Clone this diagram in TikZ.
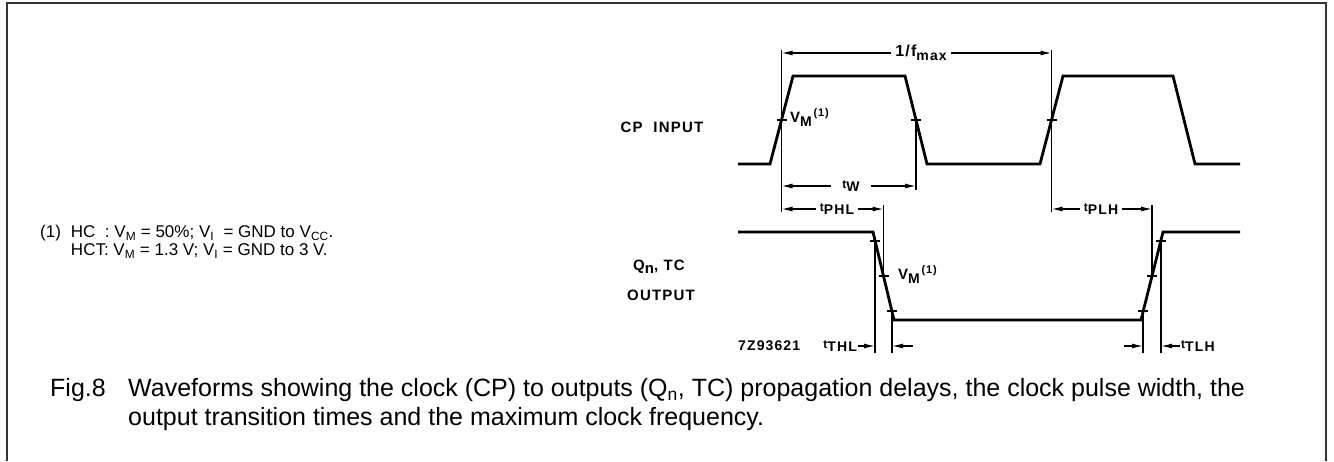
\documentclass[tikz,border=0pt]{standalone}
\usepackage{fontspec}
\setmainfont{Liberation Sans}
\newfontfamily\wavefont[LetterSpace=8]{Liberation Sans}
\usetikzlibrary{arrows.meta, positioning, calc}

% label helpers
\newcommand{\tlabel}[1]{{\fontsize{12}{12}\selectfont t}\raisebox{-3.5pt}{\fontsize{14}{14}\selectfont #1}}
\newcommand{\vmlabel}{V\raisebox{-4pt}{\fontsize{14}{14}\selectfont M}\raisebox{6pt}{\fontsize{11}{11}\selectfont\,(1)}}

\begin{document}
\begin{tikzpicture}[x=1pt, y=-1pt,
  wave/.style={line width=2.8pt, line join=miter},
  refline/.style={line width=1.2pt},
  vmtick/.style={line width=1.2pt},
  dim/.style={line width=1.2pt, -{Latex[length=11pt, width=5pt]}},
  lbl/.style={font=\wavefont\fontsize{15}{17}\selectfont\bfseries, inner sep=1pt},
  timelbl/.style={lbl, inner xsep=4pt},
  note/.style={font=\fontsize{17}{18}\selectfont, inner sep=0pt, align=left},
  caption/.style={font=\fontsize{25}{29}\selectfont, inner sep=0pt, align=left},
  frame/.style={line width=2pt, draw=black!80}]
  \useasboundingbox (0,0) rectangle (1334,461);

  % Frame
  \draw[frame] (7,461) -- (7,3) -- (1326,3) -- (1326,461);

  % Signal names
  \node[lbl] (cpname) at (662,127) {CP\ \ INPUT};
  \node[lbl] (qname) at (659,267) {Q\raisebox{-3.5pt}{n}, TC};
  \node[lbl] (outname) at (661,295) {OUTPUT};
  \node[lbl, anchor=west, font=\wavefont\fontsize{14}{16}\selectfont\bfseries] (figno) at (737,346) {7Z93621};

  % CP input waveform
  \draw[wave] (738,164) -- (770,164) -- (793,76) -- (905,76) -- (927,164)
    -- (1040,164) -- (1063,76) -- (1173,76) -- (1195,164) -- (1240,164);

  % Q_n, TC output waveform
  \draw[wave] (738,232) -- (873,232) -- (894,320) -- (1141,320) -- (1163,232) -- (1240,232);

  % Measurement ticks
  \foreach \x/\y in {781.5/120, 916/120, 1051.5/120, 875/241, 883.5/276, 892/311,
                     1143/311, 1152/276, 1161/241}
    \draw[vmtick] (\x-5,\y) -- (\x+5,\y);

  % Reference lines
  \coordinate (ra top) at (781.5,50);   \coordinate (ra bot) at (781.5,212);
  \coordinate (rb top) at (916,120);    \coordinate (rb bot) at (916,190);
  \coordinate (rc top) at (1051.5,50);  \coordinate (rc bot) at (1051.5,212);
  \coordinate (rd top) at (883.5,205);  \coordinate (rd bot) at (883.5,276);
  \coordinate (re top) at (1152,205);   \coordinate (re bot) at (1152,276);
  \coordinate (rf top) at (875,241);    \coordinate (rf bot) at (875,353);
  \coordinate (rg top) at (892,311);    \coordinate (rg bot) at (892,353);
  \coordinate (rh top) at (1143,311);   \coordinate (rh bot) at (1143,353);
  \coordinate (ri top) at (1161,241);   \coordinate (ri bot) at (1161,353);
  \foreach \r in {ra, rb, rc, rd, re, rf, rg, rh, ri}
    \draw[refline] (\r\space top) -- (\r\space bot);

  % Timing labels
  \node[timelbl] (fmax) at (921,53) {{\fontsize{16}{16}\selectfont 1/f}\raisebox{-4pt}{\fontsize{14}{14}\selectfont max}};
  \node[timelbl, inner xsep=11pt] (tw) at (851,186) {\tlabel{W}};
  \node[timelbl] (tphl) at (837,209) {\tlabel{PHL}};
  \node[timelbl] (tplh) at (1101,209) {\tlabel{PLH}};
  \node[lbl, anchor=west] (vmcp) at (789,118) {\vmlabel};
  \node[lbl, anchor=west] (vmout) at (897,275) {\vmlabel};
  \node[lbl, anchor=east] (tthl) at (858,346) {\tlabel{THL}};
  \node[lbl, anchor=west] (ttlh) at (1180,346) {\tlabel{TLH}};

  % Dimension arrows
  \draw[dim] (fmax.west) -- (fmax.west -| ra top);
  \draw[dim] (fmax.east) -- (fmax.east -| rc top);
  \draw[dim] (tw.west) -- (tw.west -| ra top);
  \draw[dim] (tw.east) -- (tw.east -| rb top);
  \draw[dim] (tphl.west) -- (tphl.west -| ra top);
  \draw[dim] (tphl.east) -- (tphl.east -| rd top);
  \draw[dim] (tplh.west) -- (tplh.west -| rc top);
  \draw[dim] (tplh.east) -- (tplh.east -| re top);
  \coordinate (thl in) at (913,346);
  \coordinate (tlh in) at (1124,346);
  \draw[dim] (tthl.east) -- (tthl.east -| rf top);
  \draw[dim] (thl in) -- (thl in -| rg top);
  \draw[dim] (tlh in) -- (tlh in -| rh top);
  \draw[dim] (ttlh.west) -- (ttlh.west -| ri top);

  % Note
  \node[note, anchor=north west] (hcnote) at (40,225) {
    \begin{tabular}{@{}l@{\hspace{10pt}}l@{}}
      (1) & HC\ \ : V\textsubscript{M} = 50\%; V\textsubscript{I}\ \ = GND to V\textsubscript{CC}.\\
          & HCT: V\textsubscript{M} = 1.3 V; V\textsubscript{I} = GND to 3 V.
    \end{tabular}
  };

  % Caption
  \node[caption, anchor=north west] (fig) at (50,378) {Fig.8};
  \node[caption, anchor=north west] (captext) at (128,378) {
    Waveforms showing the clock (CP) to outputs (Q\textsubscript{n}, TC) propagation delays, the clock pulse width, the\\
    output transition times and the maximum clock frequency.
  };
\end{tikzpicture}
\end{document}
